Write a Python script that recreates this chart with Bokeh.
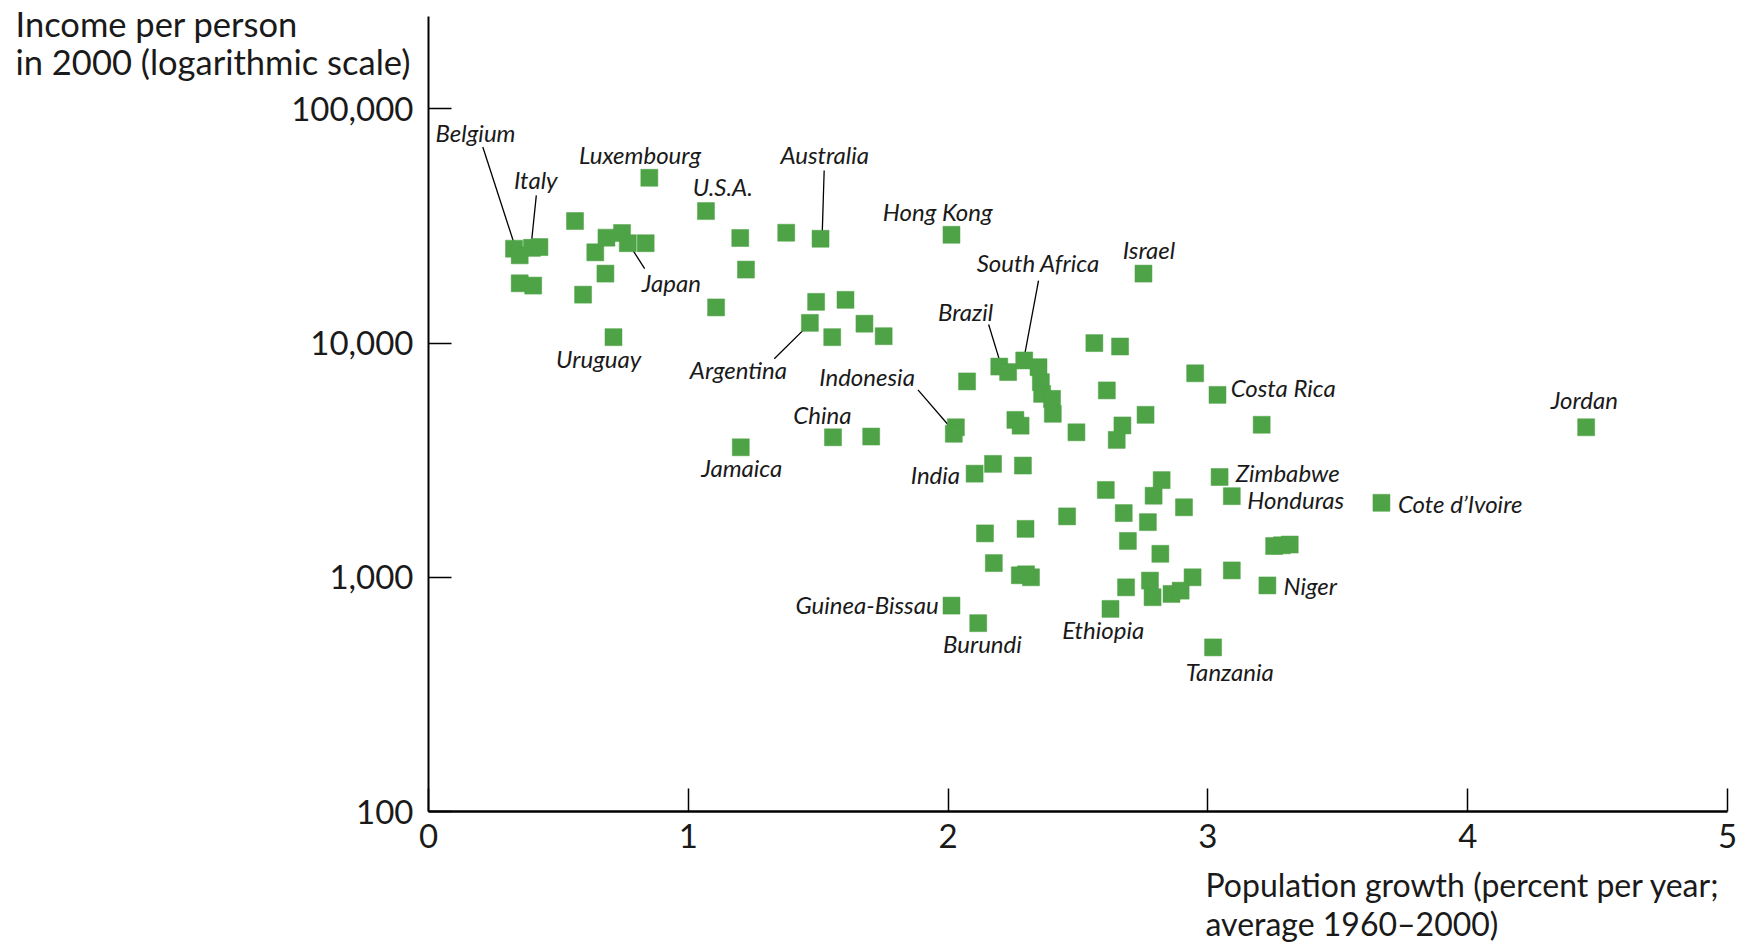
from bokeh.plotting import figure
from bokeh.models import ColumnDataSource, FixedTicker, NumeralTickFormatter, Range1d, Title
from bokeh.core.properties import value
from bokeh.embed import file_html
from bokeh.resources import INLINE

# ---- data: population growth (% per year, 1960-2000) and income per person in 2000 ----
growth = [0.329, 0.351, 0.398, 0.427, 0.351, 0.403, 0.564, 0.642, 0.685, 0.745,
          0.767, 0.836, 0.681, 0.595, 0.712, 0.850, 1.068, 1.200, 1.222, 1.107,
          1.377, 1.509, 1.492, 1.468, 1.554, 1.605, 1.678, 1.752, 2.013, 1.202,
          1.557, 1.704, 2.030, 2.022, 2.102, 2.173, 2.288, 2.073, 2.197, 2.231,
          2.293, 2.348, 2.357, 2.362, 2.400, 2.403, 2.259, 2.279, 2.494, 2.563,
          2.752, 2.662, 2.951, 3.037, 2.611, 2.760, 2.671, 2.649, 3.207, 3.045,
          3.092, 3.668, 2.822, 2.607, 2.791, 2.908, 2.676, 2.769, 2.458, 2.142,
          2.298, 2.692, 2.817, 3.255, 3.315, 3.285, 2.176, 2.276, 2.319, 2.300,
          3.092, 3.229, 2.941, 2.685, 2.777, 2.787, 2.860, 2.895, 2.013, 2.116,
          2.625, 3.020, 4.456]
income = [25300, 23700, 25500, 25700, 18000, 17600, 33200, 24400, 28200, 29500,
          26700, 26700, 19800, 16100, 10600, 50800, 36600, 28100, 20600, 14200,
          29600, 27900, 15000, 12200, 10600, 15300, 12100, 10700, 29000, 3590,
          3960, 3990, 4370, 4100, 2770, 3050, 3000, 6860, 7940, 7520,
          8430, 7890, 6810, 6070, 5780, 4990, 4700, 4440, 4160, 10000,
          19800, 9670, 7430, 6010, 6280, 4940, 4450, 3860, 4480, 2680,
          2220, 2080, 2600, 2360, 2230, 1990, 1880, 1720, 1820, 1540,
          1610, 1430, 1260, 1360, 1380, 1370, 1150, 1020, 1000, 1030,
          1070, 923, 1000, 906, 968, 822, 849, 877, 757, 637,
          733, 502, 4370]

# country labels
countries = ["Belgium", "Italy", "Luxembourg", "U.S.A.", "Australia", "Hong Kong",
             "Japan", "Uruguay", "Argentina", "Indonesia", "China", "Jamaica", "India",
             "Brazil", "South Africa", "Israel", "Costa Rica", "Jordan", "Zimbabwe",
             "Honduras", "Cote d\u2019Ivoire", "Niger", "Guinea-Bissau", "Burundi",
             "Ethiopia", "Tanzania"]

x_ticks = [0, 1, 2, 3, 4, 5]
y_ticks = [100, 1000, 10000, 100000]

y_title = "Income per person\nin 2000 (logarithmic scale)"
x_title = "Population growth (percent per year;\naverage 1960\u20132000)"

# ---- label placement (annotation positions, in data units) ----
label_x = [0.181, 0.413, 0.814, 1.133, 1.525, 1.960, 0.935, 0.655, 1.193, 1.688,
           1.516, 1.206, 1.951, 2.067, 2.347, 2.773, 3.290, 4.449, 3.307, 3.338,
           3.971, 3.394, 1.688, 2.132, 2.597, 3.084]
label_y = [79400, 50000, 63700, 46400, 63700, 36300, 18200, 8610, 7710, 7220,
           4960, 2930, 2740, 13600, 22100, 25000, 6460, 5720, 2800, 2150,
           2060, 922, 764, 520, 600, 395]

# leader lines
lead_x0 = [0.209, 0.415, 1.523, 0.832, 1.331, 1.884, 2.156, 2.348]
lead_y0 = [68700, 42700, 54600, 20800, 8570, 6310, 12000, 18500]
lead_x1 = [0.334, 0.394, 1.515, 0.771, 1.467, 2.025, 2.202, 2.293]
lead_y1 = [25700, 25400, 28300, 26500, 12080, 4160, 8170, 8710]

FONT = "Lato"
INK = "#1a1a1a"

p = figure(width=1746, height=943, output_backend="svg", toolbar_location=None,
           y_axis_type="log", x_range=Range1d(0, 5.0), y_range=Range1d(100, 248000),
           min_border_left=428, min_border_right=19, min_border_top=16,
           min_border_bottom=132)
p.outline_line_color = None
p.xgrid.grid_line_color = None
p.ygrid.grid_line_color = None
p.background_fill_color = "white"
p.border_fill_color = "white"

for ax in (p.xaxis[0], p.yaxis[0]):
    ax.axis_line_color = "black"
    ax.axis_line_width = 2
    ax.major_tick_line_color = "black"
    ax.major_tick_line_width = 1.5
    ax.major_tick_in = 23
    ax.major_tick_out = 0
    ax.minor_tick_line_color = None
    ax.major_label_text_font = FONT
    ax.major_label_text_font_size = "33px"
    ax.major_label_text_color = INK

p.xaxis[0].axis_line_width = 2.5
p.xaxis[0].ticker = FixedTicker(ticks=x_ticks)
p.xaxis[0].major_label_standoff = 12
p.yaxis[0].ticker = FixedTicker(ticks=y_ticks)
p.yaxis[0].formatter = NumeralTickFormatter(format="0,0")
p.yaxis[0].major_label_standoff = 15

# leader lines
p.segment(x0=lead_x0, y0=lead_y0, x1=lead_x1, y1=lead_y1,
          line_color="black", line_width=1.3)

# points
src = ColumnDataSource(dict(x=growth, y=income))
p.scatter("x", "y", source=src, marker="square", size=17,
          fill_color="#4ea346", line_color="#4ea346", line_width=0.5)

# country labels
lsrc = ColumnDataSource(dict(x=label_x, y=label_y, t=countries))
p.text("x", "y", text="t", source=lsrc, text_font=value(FONT),
       text_font_style="italic", text_font_size="24px", text_color=INK,
       text_align="center", text_baseline="middle")

# y title: the plot title, pulled down into the left margin
p.title.text = y_title
p.title.align = "left"
p.title.offset = -413
p.title.vertical_align = "bottom"
p.title.standoff = -131
p.title.text_font = FONT
p.title.text_font_size = "34.5px"
p.title.text_font_style = "normal"
p.title.text_color = INK
p.title.text_line_height = 0.93

# x title: a second title, pulled down to the lower right below the axis
p.add_layout(Title(text=x_title, align="left", offset=777, vertical_align="bottom",
                   text_font=FONT, text_font_size="32px", text_font_style="normal",
                   text_color=INK, text_line_height=1.0, standoff=-1852), "above")

open("out.html", "w").write(file_html(p, INLINE))
